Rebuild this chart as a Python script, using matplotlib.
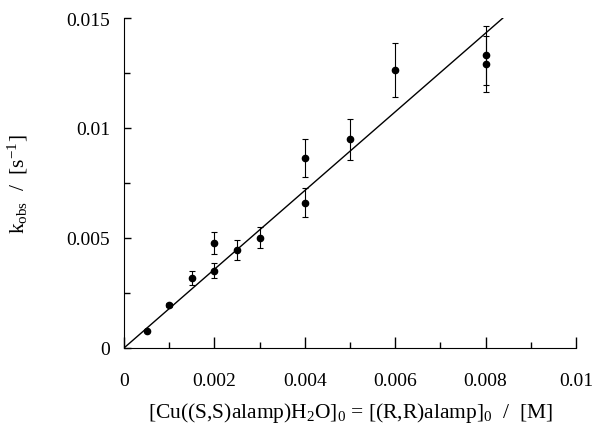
import numpy as np
import matplotlib
matplotlib.use("Agg")
import matplotlib.pyplot as plt
from matplotlib.ticker import MultipleLocator

plt.rcParams['font.family'] = ['Liberation Serif', 'DejaVu Serif']
plt.rcParams['mathtext.fontset'] = 'custom'
plt.rcParams['mathtext.rm'] = 'Liberation Serif'
plt.rcParams['mathtext.it'] = 'Liberation Serif'

# concentration [M]
conc = [0.0005, 0.001, 0.0015, 0.002, 0.002, 0.0025, 0.003,
        0.004, 0.004, 0.005, 0.006, 0.008, 0.008]
# k_obs [s^-1]
k_obs = [0.00076, 0.00195, 0.00319, 0.00477, 0.00351, 0.00447, 0.00501,
         0.00863, 0.00660, 0.00949, 0.01265, 0.01330, 0.01290]
k_err = [0.00005, 0.00010, 0.00032, 0.00049, 0.00035, 0.00045, 0.00048,
         0.00085, 0.00066, 0.00094, 0.00123, 0.00133, 0.00126]

# linear fit through origin
slope = 1.789
fit_x = [0.0, 0.00838]

fig = plt.figure(figsize=(5.95, 4.27), dpi=100)
ax = fig.add_axes([0.2084, 0.1827, 0.7596, 0.7728])

ax.plot(fit_x, [slope * v for v in fit_x], color='black', lw=1.0)
ax.errorbar(conc, k_obs, yerr=k_err, fmt='o', color='black', ms=4.5,
            elinewidth=0.8, capsize=2.5, capthick=0.8)

ax.set_xlim(0, 0.01)
ax.set_ylim(0, 0.015)
ax.xaxis.set_minor_locator(MultipleLocator(0.001))
ax.yaxis.set_minor_locator(MultipleLocator(0.0025))
ax.set_xticks([0, 0.002, 0.004, 0.006, 0.008, 0.01])
ax.set_xticklabels(['0', '0.002', '0.004', '0.006', '0.008', '0.01'])
ax.set_yticks([0, 0.005, 0.01, 0.015])
ax.set_yticklabels(['0', '0.005', '0.01', '0.015'])

ax.spines['top'].set_visible(False)
ax.spines['right'].set_visible(False)
ax.tick_params(which='major', direction='in', length=8, width=1, labelsize=14)
ax.tick_params(which='minor', direction='in', length=4, width=1)
ax.tick_params(axis='y', which='major', length=5, pad=10)
ax.tick_params(axis='x', which='major', pad=17)

ax.set_xlabel(r'[Cu((S,S)alamp)H$_2$O]$_0$ = [(R,R)alamp]$_0$  /  [M]',
              fontsize=15.5, labelpad=8)
ax.set_ylabel(r'k$_{\rm obs}$  /  [s$^{-1}$]', fontsize=15.5, labelpad=26)

fig.savefig('out.png', dpi=100)
